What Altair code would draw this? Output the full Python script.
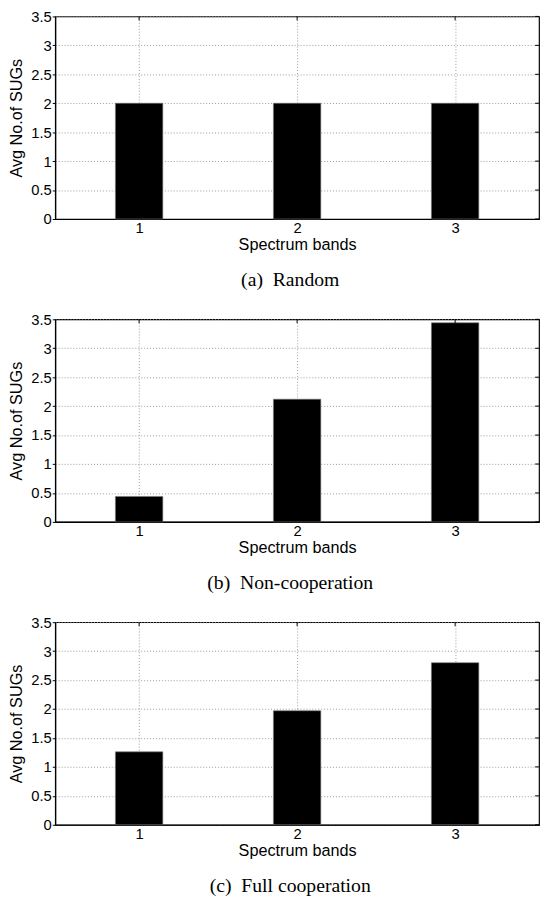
import altair as alt
import pandas as pd

bands = [1, 2, 3]
random_vals = [2.0, 2.0, 2.0]
noncoop_vals = [0.44, 2.12, 3.44]
fullcoop_vals = [1.26, 1.97, 2.80]
captions = ["(a)\u00a0\u00a0Random", "(b)\u00a0\u00a0Non-cooperation", "(c)\u00a0\u00a0Full cooperation"]
y_ticks = [0, 0.5, 1, 1.5, 2, 2.5, 3, 3.5]

HALF = 0.15  # half bar width in band units
W, H = 492, 206
TICK = 4

x_scale = alt.Scale(domain=[0.5, 3.5], nice=False, zero=False)
y_scale = alt.Scale(domain=[0, 3.5], nice=False)
x_axis = alt.Axis(values=bands, title="Spectrum bands", format="d",
                  grid=True, gridDash=[1, 2], gridColor="#999",
                  ticks=False, labelPadding=2, titlePadding=1,
                  domainColor="black", domainWidth=1.2)
y_axis = alt.Axis(values=y_ticks, title="Avg No.of SUGs",
                  labelExpr="'' + datum.value",
                  grid=True, gridDash=[1, 2], gridColor="#999",
                  ticks=True, tickSize=3, tickColor="black", tickWidth=1,
                  labelPadding=1, titlePadding=6,
                  domainColor="black", domainWidth=1.2)

band_df = pd.DataFrame({"band": bands})
ytick_df = pd.DataFrame({"value": y_ticks})

def panel(vals, caption):
    df = pd.DataFrame({"band": bands, "value": vals})
    bars = alt.Chart(df).transform_calculate(
        lo=f"datum.band - {HALF}", hi=f"datum.band + {HALF}"
    ).mark_bar(color="black", stroke="#777", strokeWidth=0.6, orient="vertical").encode(
        x=alt.X("lo:Q", scale=x_scale, axis=x_axis),
        x2="hi:Q",
        y=alt.Y("value:Q", scale=y_scale, axis=y_axis),
        y2=alt.datum(0),
    )
    top_ticks = alt.Chart(band_df).mark_rule(color="black", strokeWidth=1).encode(
        x=alt.X("band:Q", scale=x_scale, axis=x_axis),
        y=alt.value(0),
        y2=alt.value(TICK),
    )
    right_ticks = alt.Chart(ytick_df).mark_rule(color="black", strokeWidth=1).encode(
        y=alt.Y("value:Q", scale=y_scale, axis=y_axis),
        x=alt.value(W - TICK),
        x2=alt.value(W),
    )
    return alt.layer(bars, top_ticks, right_ticks).properties(
        width=W, height=H,
        title=alt.TitleParams(caption, orient="bottom", anchor="middle",
                              font="Liberation Serif", fontSize=20,
                              fontWeight="normal", color="black",
                              offset=18, dx=-7),
    )

chart = alt.vconcat(
    panel(random_vals, captions[0]),
    panel(noncoop_vals, captions[1]),
    panel(fullcoop_vals, captions[2]),
    spacing=20,
).properties(
    padding={"left": 0, "top": -7, "right": 0, "bottom": 0},
    background="white",
).configure_view(
    stroke="black", strokeWidth=1.2
).configure_axis(
    labelFont="Liberation Sans", titleFont="Liberation Sans",
    labelFontSize=15, titleFontSize=16.5, titleFontWeight="normal",
    labelColor="black", titleColor="black",
)

chart.save("out.html", embed_options={"renderer": "svg", "actions": False})
